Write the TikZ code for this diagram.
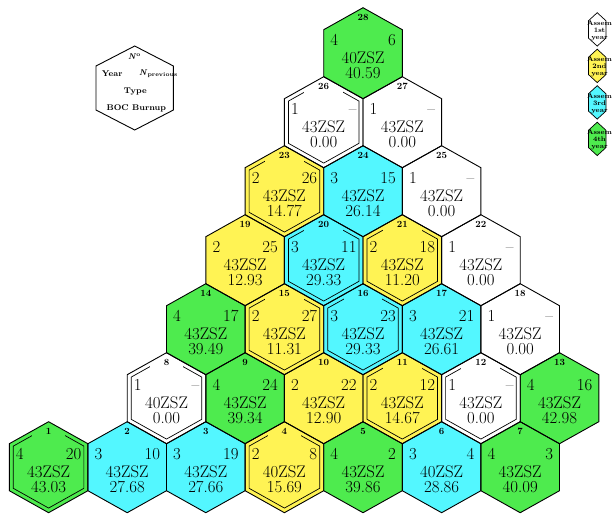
\documentclass[tikz,border=0pt]{standalone}
\usepackage{fontspec}
\definecolor{y1}{RGB}{255,255,255}
\definecolor{y2}{RGB}{255,243,84}
\definecolor{y3}{RGB}{83,247,255}
\definecolor{y4}{RGB}{78,235,78}
\newcommand\mainf{\fontsize{16.8}{15}\selectfont}
\newcommand\labf{\fontsize{9.5}{10}\selectfont\bfseries}
\newcommand\keyf{\fontsize{8.3}{9}\selectfont\bfseries}
\newcommand\legf{\fontsize{6.8}{7}\selectfont\bfseries}
\def\hexlist{
1/0/0/4/20/43ZSZ/43.03/1,
2/1/0/3/10/43ZSZ/27.68/0,
3/2/0/3/19/43ZSZ/27.66/0,
4/3/0/2/8/40ZSZ/15.69/1,
5/4/0/4/2/43ZSZ/39.86/0,
6/5/0/3/4/40ZSZ/28.86/0,
7/6/0/4/3/43ZSZ/40.09/0,
8/1.5/1/1/\textendash/40ZSZ/0.00/1,
9/2.5/1/4/24/43ZSZ/39.34/0,
10/3.5/1/2/22/43ZSZ/12.90/0,
11/4.5/1/2/12/43ZSZ/14.67/1,
12/5.5/1/1/\textendash/43ZSZ/0.00/1,
13/6.5/1/4/16/43ZSZ/42.98/0,
14/2/2/4/17/43ZSZ/39.49/0,
15/3/2/2/27/43ZSZ/11.31/1,
16/4/2/3/23/43ZSZ/29.33/1,
17/5/2/3/21/43ZSZ/26.61/0,
18/6/2/1/\textendash/43ZSZ/0.00/0,
19/2.5/3/2/25/43ZSZ/12.93/0,
20/3.5/3/3/11/43ZSZ/29.33/1,
21/4.5/3/2/18/43ZSZ/11.20/1,
22/5.5/3/1/\textendash/43ZSZ/0.00/0,
23/3/4/2/26/43ZSZ/14.77/1,
24/4/4/3/15/43ZSZ/26.14/0,
25/5/4/1/\textendash/43ZSZ/0.00/0,
26/3.5/5/1/\textendash/43ZSZ/0.00/1,
27/4.5/5/1/\textendash/43ZSZ/0.00/0,
28/4/6/4/6/40ZSZ/40.59/0}
\begin{document}
\begin{tikzpicture}[x=1pt,y=-1pt,
  txt/.style={inner sep=0pt, font=\mainf},
  numlab/.style={inner xsep=14pt, inner ysep=3.5pt, font=\labf, anchor=base},
  outer/.style={draw=black, line width=0.9pt, line join=miter},
  innerhex/.style={draw=black, line width=0.7pt},
  keytxt/.style={inner sep=0pt, font=\keyf},
  legtxt/.style={inner sep=0pt, font=\legf, align=center}]
\useasboundingbox (0,0) rectangle (612,515);
% fills
\foreach \n/\k/\rw/\yr/\pv/\ty/\bu/\dbl in \hexlist {
  \pgfmathsetmacro\cx{48.6+78.6*\k}
  \pgfmathsetmacro\cy{467.2-69*\rw}
  \fill[y\yr] (\cx,\cy-45.5) -- ++(39.3,22) -- ++(0,47) -- ++(-39.3,22) -- ++(-39.3,-22) -- ++(0,-47) -- cycle;
}
% contents and borders
\foreach \n/\k/\rw/\yr/\pv/\ty/\bu/\dbl in \hexlist {
  \pgfmathsetmacro\cx{48.6+78.6*\k}
  \pgfmathsetmacro\cy{467.2-69*\rw}
  \begin{scope}
    \clip (\cx,\cy-45.5) -- ++(39.3,22) -- ++(0,47) -- ++(-39.3,22) -- ++(-39.3,-22) -- ++(0,-47) -- cycle;
    \ifnum\dbl=1
      \draw[innerhex] (\cx,\cy-40.86) -- ++(35.29,19.76) -- ++(0,42.2) -- ++(-35.29,19.76) -- ++(-35.29,-19.76) -- ++(0,-42.2) -- cycle;
    \fi
    \node[numlab, fill=y\yr] (lab\n) at (\cx,\cy-33.2) {\n};
  \end{scope}
  \node[txt, anchor=base west] (yr\n) at (\cx-32.8,\cy-7.5) {\yr};
  \node[txt, anchor=base east] (pv\n) at (\cx+33,\cy-7.5) {\pv};
  \node[txt, align=center, anchor=center] (ty\n) at (\cx,\cy+11.6) {\ty\\\bu};
  \draw[outer] (\cx,\cy-45.5) -- ++(39.3,22) -- ++(0,47) -- ++(-39.3,22) -- ++(-39.3,-22) -- ++(0,-47) -- cycle;
}
% key hexagon
\draw[outer] (134.7,46) -- ++(38.7,20) -- ++(0,44) -- ++(-38.7,20) -- ++(-38.7,-20) -- ++(0,-44) -- cycle;
\node[keytxt, anchor=base] (knum) at (134.5,59) {\textit{N}\textsuperscript{o}};
\node[keytxt, anchor=base west] (kyear) at (101.7,76.7) {Year};
\node[keytxt, anchor=base west] (kprev) at (139,75.5) {\textit{N}\textsubscript{previous}};
\node[keytxt, anchor=base] (ktype) at (135.3,93.5) {Type};
\node[keytxt, anchor=base] (kboc) at (136.3,110) {BOC Burnup};
% legend
\foreach \i/\lab in {1/1st,2/2nd,3/3rd,4/4th} {
  \pgfmathsetmacro\ly{29.4+36.5*(\i-1)}
  \draw[fill=y\i, line width=0.7pt] (597.2,\ly-16.7) -- ++(8.8,8.1) -- ++(0,17.2) -- ++(-8.8,8.1) -- ++(-8.8,-8.1) -- ++(0,-17.2) -- cycle;
  \node[legtxt] (leg\i) at (599.5,\ly+1.2) {Assem\\\lab\\year};
}
\end{tikzpicture}
\end{document}
